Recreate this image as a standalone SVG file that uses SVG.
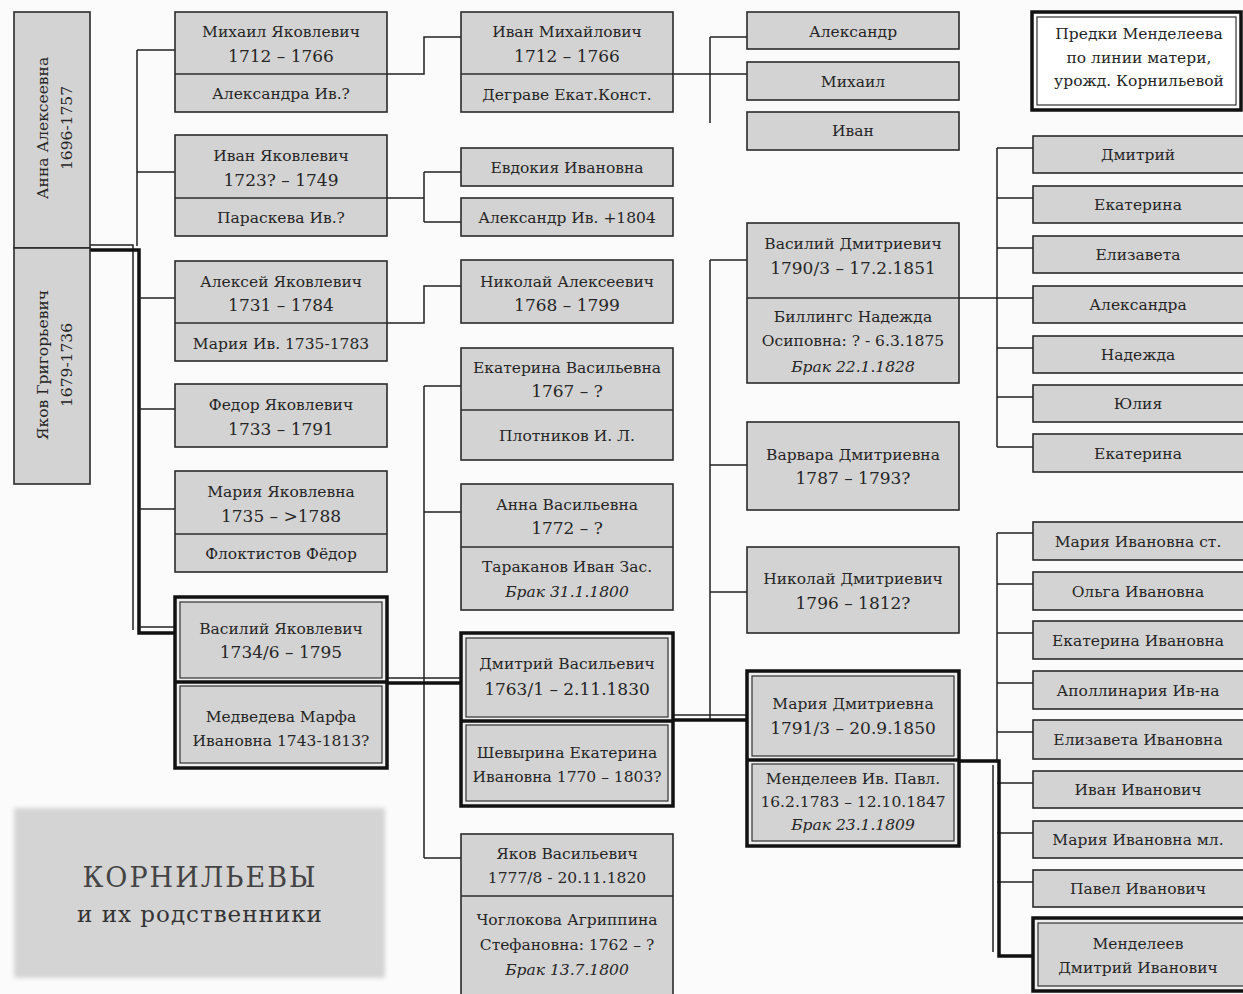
<svg xmlns="http://www.w3.org/2000/svg" width="1243" height="994" viewBox="0 0 1243 994">
<defs>
<style>
.b{fill:#d3d3d3;stroke:#2b2b2b;stroke-width:1.6}
.bo{fill:#eeeeee;stroke:#111;stroke-width:3.5}
.bi{fill:#d3d3d3;stroke:#333;stroke-width:1.2}
.d{stroke:#2b2b2b;stroke-width:1.6;fill:none}
.t{font-family:"DejaVu Serif","Liberation Serif",serif;font-size:15.5px;fill:#262626;text-anchor:middle}
.y{font-size:17px}
.i{font-style:italic}
.c{stroke:#222;stroke-width:1.5;fill:none}
.k{stroke:#111;stroke-width:3.5;fill:none}
</style>
<filter id="blur" x="-5%" y="-10%" width="110%" height="120%"><feGaussianBlur stdDeviation="2"/></filter>
</defs>
<rect width="1243" height="994" fill="#fbfbfb"/>

<g id="connectors">
<path class="c" d="M90 245 H133 V630"/>
<path class="k" d="M90 250 H139 V633 H175"/>
<path class="c" d="M139 627 H175"/>
<path class="c" d="M137 50 V246 M137 50 H175 M137 172 H175 M139 298 H175 M139 409 H175 M139 509 H175"/>
<path class="c" d="M387 74 H424 V37 H461"/>
<path class="c" d="M673 74 H747 M710 37 V123 M710 37 H747"/>
<path class="c" d="M387 198 H424 M424 172 V222 M424 172 H461 M424 222 H461"/>
<path class="c" d="M387 323 H424 V286 H461"/>
<path class="c" d="M424 386 V858 M424 386 H461 M424 512 H461 M424 858 H461"/>
<path class="k" d="M387 683 H461"/>
<path class="c" d="M387 678 H461"/>
<path class="c" d="M710 260 V720 M710 260 H747 M710 465 H747 M710 592 H747"/>
<path class="k" d="M673 720 H747"/>
<path class="c" d="M673 715 H747"/>
<path class="c" d="M959 298 H1033 M997 148 V447 M997 148 H1033 M997 198 H1033 M997 248 H1033 M997 348 H1033 M997 397 H1033 M997 447 H1033"/>
<path class="c" d="M997 533 V760 M997 533 H1033 M997 584 H1033 M997 633 H1033 M997 683 H1033 M997 732 H1033 M997 783 H1033 M997 833 H1033 M997 882 H1033"/>
<path class="k" d="M959 761 H999 V956 H1033"/>
<path class="c" d="M993 765 V952"/>
</g>

<g id="anna">
<rect class="b" x="14" y="12" width="76" height="236"/>
<text class="t" transform="translate(43,128) rotate(-90)" y="5">Анна Алексеевна</text>
<text class="t" transform="translate(67,128) rotate(-90)" y="5">1696-1757</text>
</g>
<g id="yakov">
<rect class="b" x="14" y="248" width="76" height="236"/>
<text class="t" transform="translate(43,365) rotate(-90)" y="5">Яков Григорьевич</text>
<text class="t" transform="translate(67,365) rotate(-90)" y="5">1679-1736</text>
</g>

<g id="mikhail-yak">
<rect class="b" x="175" y="12" width="212" height="100"/><path class="d" d="M175 74 H387"/>
<text class="t" x="281" y="37">Михаил Яковлевич</text>
<text class="t y" x="281" y="62">1712 – 1766</text>
<text class="t" x="281" y="99">Александра Ив.?</text>
</g>
<g id="ivan-yak">
<rect class="b" x="175" y="135" width="212" height="101"/><path class="d" d="M175 198 H387"/>
<text class="t" x="281" y="161">Иван Яковлевич</text>
<text class="t y" x="281" y="186">1723? – 1749</text>
<text class="t" x="281" y="223">Параскева Ив.?</text>
</g>
<g id="aleksey-yak">
<rect class="b" x="175" y="261" width="212" height="100"/><path class="d" d="M175 323 H387"/>
<text class="t" x="281" y="287">Алексей Яковлевич</text>
<text class="t y" x="281" y="311">1731 – 1784</text>
<text class="t" x="281" y="349">Мария Ив. 1735-1783</text>
</g>
<g id="fedor-yak">
<rect class="b" x="175" y="384" width="212" height="63"/>
<text class="t" x="281" y="410">Федор Яковлевич</text>
<text class="t y" x="281" y="435">1733 – 1791</text>
</g>
<g id="maria-yak">
<rect class="b" x="175" y="471" width="212" height="101"/><path class="d" d="M175 534 H387"/>
<text class="t" x="281" y="497">Мария Яковлевна</text>
<text class="t y" x="281" y="522">1735 – &gt;1788</text>
<text class="t" x="281" y="559">Флоктистов Фёдор</text>
</g>
<g id="vasily-yak">
<rect class="bo" x="175" y="597" width="212" height="171"/><path class="k" d="M175 682 H387"/>
<rect class="bi" x="180" y="602" width="202" height="76"/>
<rect class="bi" x="180" y="686" width="202" height="77"/>
<text class="t" x="281" y="634">Василий Яковлевич</text>
<text class="t y" x="281" y="658">1734/6 – 1795</text>
<text class="t" x="281" y="722">Медведева Марфа</text>
<text class="t" x="281" y="746">Ивановна 1743-1813?</text>
</g>

<g id="ivan-mikh">
<rect class="b" x="461" y="12" width="212" height="100"/><path class="d" d="M461 74 H673"/>
<text class="t" x="567" y="37">Иван Михайлович</text>
<text class="t y" x="567" y="62">1712 – 1766</text>
<text class="t" x="567" y="100">Деграве Екат.Конст.</text>
</g>
<g id="evdokia">
<rect class="b" x="461" y="148" width="212" height="38"/>
<text class="t" x="567" y="173">Евдокия Ивановна</text>
</g>
<g id="aleksandr-iv">
<rect class="b" x="461" y="198" width="212" height="38"/>
<text class="t" x="567" y="223">Александр Ив. +1804</text>
</g>
<g id="nikolai-al">
<rect class="b" x="461" y="260" width="212" height="63"/>
<text class="t" x="567" y="287">Николай Алексеевич</text>
<text class="t y" x="567" y="311">1768 – 1799</text>
</g>
<g id="ekaterina-vas">
<rect class="b" x="461" y="348" width="212" height="112"/><path class="d" d="M461 410 H673"/>
<text class="t" x="567" y="373">Екатерина Васильевна</text>
<text class="t y" x="567" y="397">1767 – ?</text>
<text class="t" x="567" y="441">Плотников И. Л.</text>
</g>
<g id="anna-vas">
<rect class="b" x="461" y="484" width="212" height="126"/><path class="d" d="M461 547 H673"/>
<text class="t" x="567" y="510">Анна Васильевна</text>
<text class="t y" x="567" y="534">1772 – ?</text>
<text class="t" x="567" y="572">Тараканов Иван Зас.</text>
<text class="t i" x="567" y="597">Брак  31.1.1800</text>
</g>
<g id="dmitry-vas">
<rect class="bo" x="461" y="633" width="212" height="173"/><path class="k" d="M461 721 H673"/>
<rect class="bi" x="466" y="638" width="202" height="79"/>
<rect class="bi" x="466" y="725" width="202" height="76"/>
<text class="t" x="567" y="669">Дмитрий Васильевич</text>
<text class="t y" x="567" y="695">1763/1 – 2.11.1830</text>
<text class="t" x="567" y="758">Шевырина Екатерина</text>
<text class="t" x="567" y="782">Ивановна 1770 – 1803?</text>
</g>
<g id="yakov-vas">
<rect class="b" x="461" y="834" width="212" height="165"/><path class="d" d="M461 896 H673"/>
<text class="t" x="567" y="859">Яков Васильевич</text>
<text class="t" x="567" y="883">1777/8 - 20.11.1820</text>
<text class="t" x="567" y="925">Чоглокова Агриппина</text>
<text class="t" x="567" y="950">Стефановна: 1762 – ?</text>
<text class="t i" x="567" y="975">Брак  13.7.1800</text>
</g>

<g id="aleksandr">
<rect class="b" x="747" y="12" width="212" height="37"/>
<text class="t" x="853" y="37">Александр</text>
</g>
<g id="mikhail">
<rect class="b" x="747" y="62" width="212" height="38"/>
<text class="t" x="853" y="87">Михаил</text>
</g>
<g id="ivan">
<rect class="b" x="747" y="112" width="212" height="38"/>
<text class="t" x="853" y="136">Иван</text>
</g>
<g id="vasily-dm">
<rect class="b" x="747" y="223" width="212" height="160"/><path class="d" d="M747 298 H959"/>
<text class="t" x="853" y="249">Василий Дмитриевич</text>
<text class="t y" x="853" y="274">1790/3 – 17.2.1851</text>
<text class="t" x="853" y="322">Биллингс Надежда</text>
<text class="t" x="853" y="346">Осиповна: ? - 6.3.1875</text>
<text class="t i" x="853" y="372">Брак  22.1.1828</text>
</g>
<g id="varvara-dm">
<rect class="b" x="747" y="422" width="212" height="88"/>
<text class="t" x="853" y="460">Варвара Дмитриевна</text>
<text class="t y" x="853" y="484">1787 – 1793?</text>
</g>
<g id="nikolai-dm">
<rect class="b" x="747" y="547" width="212" height="86"/>
<text class="t" x="853" y="584">Николай Дмитриевич</text>
<text class="t y" x="853" y="609">1796 – 1812?</text>
</g>
<g id="maria-dm">
<rect class="bo" x="747" y="671" width="212" height="175"/><path class="k" d="M747 760 H959"/>
<rect class="bi" x="752" y="676" width="202" height="80"/>
<rect class="bi" x="752" y="764" width="202" height="77"/>
<text class="t" x="853" y="709">Мария Дмитриевна</text>
<text class="t y" x="853" y="734">1791/3 – 20.9.1850</text>
<text class="t" x="853" y="784">Менделеев Ив. Павл.</text>
<text class="t" x="853" y="807">16.2.1783 – 12.10.1847</text>
<text class="t i" x="853" y="830">Брак 23.1.1809</text>
</g>

<g id="legend">
<rect x="1032" y="12" width="209" height="98" fill="#fff" stroke="#111" stroke-width="3.5"/>
<rect x="1037" y="17" width="199" height="88" fill="#fff" stroke="#333" stroke-width="1.2"/>
<text class="t" x="1139" y="39">Предки Менделеева</text>
<text class="t" x="1139" y="63">по линии матери,</text>
<text class="t" x="1139" y="86">урожд. Корнильевой</text>
</g>

<g id="dmitry"><rect class="b" x="1033" y="136" width="215" height="37"/><text class="t" x="1138" y="160">Дмитрий</text></g>
<g id="ekaterina1"><rect class="b" x="1033" y="186" width="215" height="37"/><text class="t" x="1138" y="210">Екатерина</text></g>
<g id="elizaveta"><rect class="b" x="1033" y="236" width="215" height="37"/><text class="t" x="1138" y="260">Елизавета</text></g>
<g id="aleksandra"><rect class="b" x="1033" y="286" width="215" height="37"/><text class="t" x="1138" y="310">Александра</text></g>
<g id="nadezhda"><rect class="b" x="1033" y="336" width="215" height="37"/><text class="t" x="1138" y="360">Надежда</text></g>
<g id="yulia"><rect class="b" x="1033" y="385" width="215" height="37"/><text class="t" x="1138" y="409">Юлия</text></g>
<g id="ekaterina2"><rect class="b" x="1033" y="434" width="215" height="38"/><text class="t" x="1138" y="459">Екатерина</text></g>

<g id="maria-iv-st"><rect class="b" x="1033" y="522" width="215" height="38"/><text class="t" x="1138" y="547">Мария Ивановна ст.</text></g>
<g id="olga-iv"><rect class="b" x="1033" y="572" width="215" height="38"/><text class="t" x="1138" y="597">Ольга Ивановна</text></g>
<g id="ekaterina-iv"><rect class="b" x="1033" y="621" width="215" height="38"/><text class="t" x="1138" y="646">Екатерина Ивановна</text></g>
<g id="apollinaria-iv"><rect class="b" x="1033" y="671" width="215" height="38"/><text class="t" x="1138" y="696">Аполлинария Ив-на</text></g>
<g id="elizaveta-iv"><rect class="b" x="1033" y="720" width="215" height="39"/><text class="t" x="1138" y="745">Елизавета Ивановна</text></g>
<g id="ivan-iv"><rect class="b" x="1033" y="771" width="215" height="37"/><text class="t" x="1138" y="795">Иван Иванович</text></g>
<g id="maria-iv-ml"><rect class="b" x="1033" y="821" width="215" height="37"/><text class="t" x="1138" y="845">Мария Ивановна мл.</text></g>
<g id="pavel-iv"><rect class="b" x="1033" y="870" width="215" height="37"/><text class="t" x="1138" y="894">Павел Иванович</text></g>
<g id="mendeleev">
<rect class="bo" x="1033" y="918" width="215" height="73"/>
<rect class="bi" x="1038" y="923" width="210" height="63"/>
<text class="t" x="1138" y="949">Менделеев</text>
<text class="t" x="1138" y="973">Дмитрий Иванович</text>
</g>

<g id="title">
<rect x="14" y="808" width="371" height="170" fill="#d4d4d4" filter="url(#blur)"/>
<text x="200" y="887" font-family="DejaVu Serif,Liberation Serif,serif" font-size="27" fill="#444" text-anchor="middle" letter-spacing="2">КОРНИЛЬЕВЫ</text>
<text x="200" y="922" font-family="DejaVu Serif,Liberation Serif,serif" font-size="23" fill="#333" text-anchor="middle" letter-spacing="1">и их родственники</text>
</g>
</svg>
